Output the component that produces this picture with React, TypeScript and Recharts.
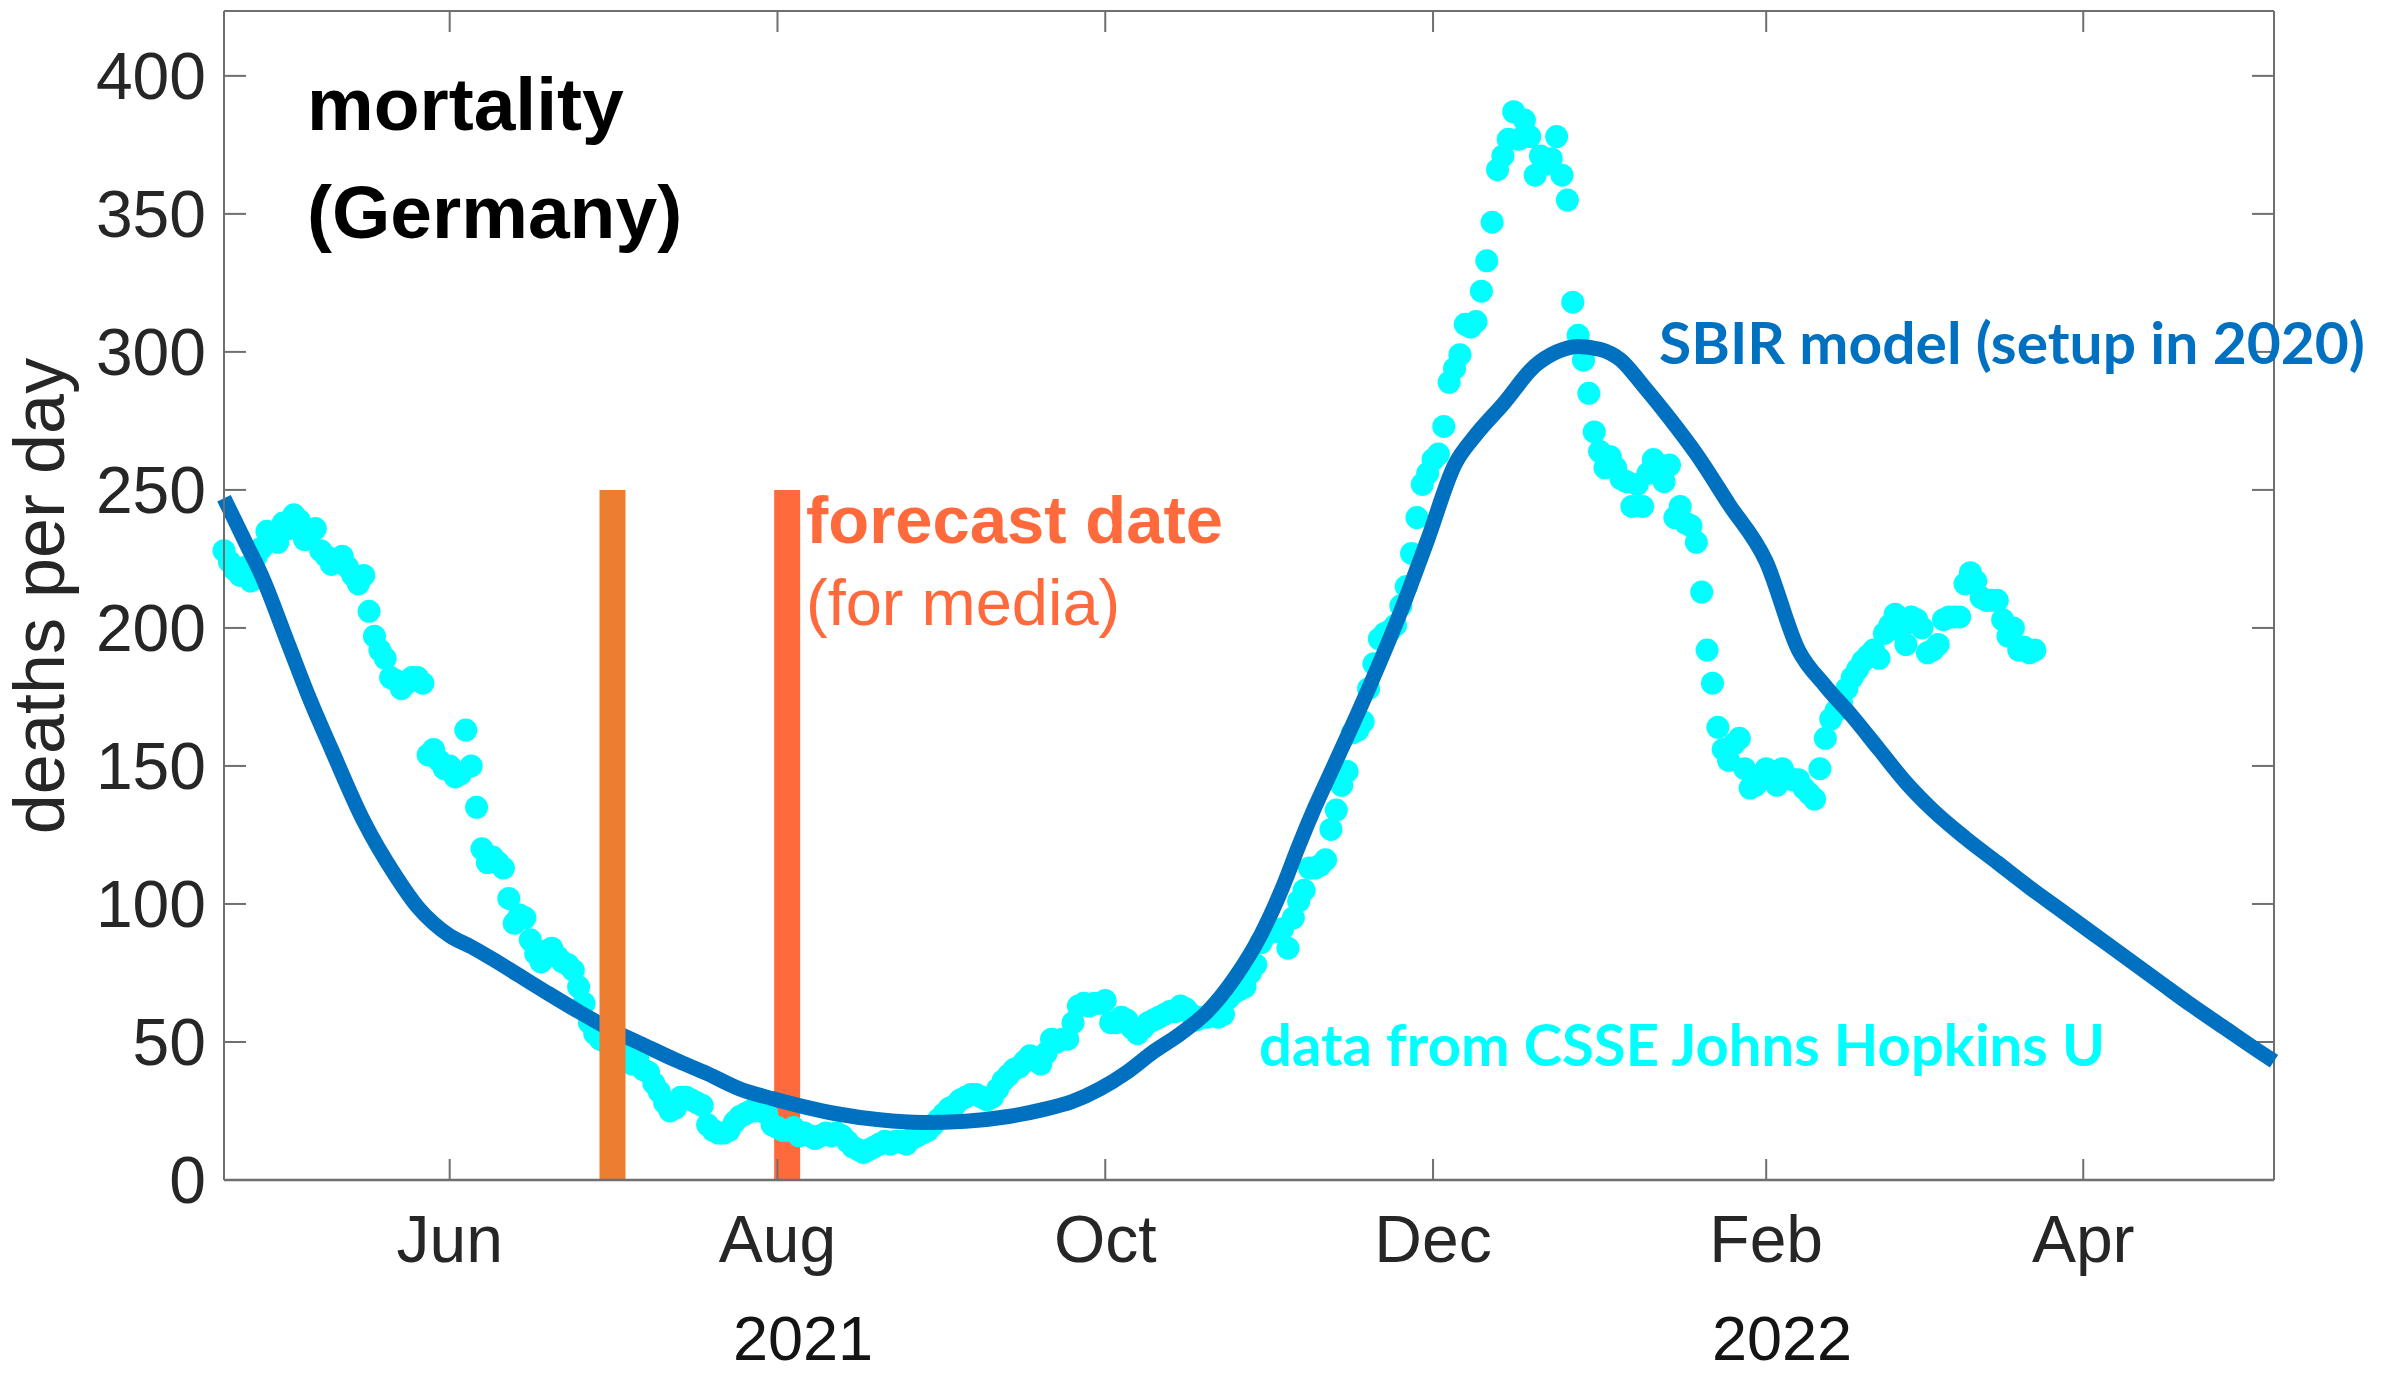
import React from 'react';
import { ComposedChart, Scatter, Line, XAxis, YAxis, ReferenceArea, ReferenceLine } from 'recharts';

const W = 2384;
const H = 1376;

// Day index relative to 2021-06-01 (day 0). First observation: 2021-04-20.
const dataStartDay = -42;
// Daily deaths (7-day mean), CSSE Johns Hopkins, Germany
const observedDeaths = [
  228, 224, 221, 219, 222, 217, 226, 229, 235, 232,
  231, 238, 236, 241, 239, 232, 234, 236, 228, 226,
  223, 224, 226, 222, 219, 216, 219, 206, 197, 192,
  189, 182, 181, 178, 180, 182, 182, 180, 154, 156,
  152, 149, 150, 146, 147, 163, 150, 135, 120, 115,
  117, 115, 113, 102, 93, 96, 95, 87, 82, 79,
  83, 84, 81, 79, 78, 76, 70, 64, 57, 53,
  51, 50, 49, 48, 48, 47, 42, 44, 40, 39,
  35, 32, 28, 25, 26, 30, 30, 29, 28, 27,
  20, 18, 17, 17, 18, 21, 23, 24, 25, 25,
  26, 24, 20, 19, 18, 18, 19, 16, 17, 16,
  15, 16, 17, 16, 17, 16, 14, 12, 11, 10,
  11, 12, 13, 14, 13, 14, 14, 13, 15, 16,
  17, 18, 20, 22, 24, 26, 27, 29, 30, 31,
  31, 30, 29, 30, 33, 36, 38, 40, 41, 43,
  45, 44, 42, 46, 51, 50, 51, 51, 57, 63,
  64, 63, 64, 64, 65, 57, 57, 59, 58, 55,
  53, 55, 57, 58, 59, 60, 61, 61, 63, 62,
  60, 58, 59, 59, 60, 59, 60, 66, 68, 69,
  70, 75, 78, 86, 89, 90, 90, 91, 84, 95,
  101, 105, 113, 113, 114, 116, 127, 134, 143, 148,
  162, 163, 166, 178, 187, 196, 198, 199, 201, 208,
  215, 227, 240, 252, 256, 261, 263, 273, 289, 294,
  299, 310, 309, 311, 322, 333, 347, 366, 371, 377,
  387, 377, 384, 378, 364, 371, 368, 370, 378, 364,
  355, 318, 306, 297, 285, 271, 264, 258, 262, 258,
  254, 253, 244, 252, 244, 256, 261, 258, 253, 259,
  240, 244, 238, 237, 231, 213, 192, 180, 164, 156,
  152, 158, 160, 149, 142, 143, 145, 149, 148, 143,
  149, 146, 145, 145, 142, 140, 138, 149, 160, 167,
  170, 173, 178, 182, 185, 188, 190, 192, 189, 198,
  201, 205, 199, 194, 204, 203, 200, 191, 192, 194,
  203, 204, 204, 204, 216, 220, 217, 211, 210, 210,
  210, 203, 197, 200, 192, 193, 191, 192,
];

// SBIR model (setup in 2020)
const modelDays = [
  -42, -38, -35, -30, -26, -22, -16, -10, -6, -3, 0, 4, 8, 13, 18, 24, 30, 36, 42, 48,
  54, 60, 66, 72, 80, 88, 96, 104, 110, 116, 121, 126, 131, 136, 141, 146, 151, 155, 158, 161,
  165, 171, 177, 182, 187, 191, 196, 202, 206, 210, 214, 218, 222, 227, 232, 238, 245, 251, 256, 261,
  266, 271, 276, 282, 288, 294, 300, 306, 312, 318, 324, 330, 336, 339.5,
];
const modelDeaths = [
  247, 231, 219, 194, 174, 156, 130, 110, 99, 93, 88.5, 84.5, 80, 74, 68, 61, 54.5, 49, 43.5, 38.5,
  33, 29.5, 26.5, 24, 21.8, 20.8, 21.3, 23, 25.3, 28.5, 33, 39, 46.5, 53, 61, 73, 89, 106, 121, 135,
  152, 178, 206, 232, 259, 270, 281, 295, 300, 302, 301, 297, 288, 276, 263, 245, 224, 192, 179, 168,
  156, 144, 134, 124, 115, 106, 97.5, 89, 80.5, 72, 63.5, 55.5, 47.5, 43,
];

const xDomain = [-42, 339.5];
const yDomain = [0, 423.5];
const monthTickDays = [0, 61, 122, 183, 245, 304];
const monthTickLabels = ['Jun', 'Aug', 'Oct', 'Dec', 'Feb', 'Apr'];
const yTicks = [0, 50, 100, 150, 200, 250, 300, 350, 400];
const yearLabels = ['2021', '2022'];

// Vertical markers (forecast dates) and their height
const markerDays = [30.3, 62.8];
const markerHeight = 250;

const AXIS = '#6f6f6f';
const TICK_TEXT = '#262626';
const HELV = '"Liberation Sans", Arial, Helvetica, sans-serif';
const CAL = 'Lato, "Open Sans", sans-serif';

// inward tick lengths in data units (≈21 px)
const X_TICK_LEN = 7.6; // y-units for top-edge ticks
const Y_TICK_LEN = 4.1; // days for right-edge ticks

const BottomTick = (props: any) => {
  const { x, y, payload } = props;
  const i = monthTickDays.indexOf(payload.value);
  return (
    <g>
      <line x1={x} x2={x} y1={y} y2={y - 21} stroke={AXIS} strokeWidth={2} />
      <text x={x} y={y + 82} textAnchor="middle" fontSize={66} fill={TICK_TEXT} fontFamily={HELV}>
        {monthTickLabels[i]}
      </text>
    </g>
  );
};

const LeftTick = (props: any) => {
  const { x, y, payload } = props;
  return (
    <g>
      <line x1={x} x2={x + 22} y1={y} y2={y} stroke={AXIS} strokeWidth={2} />
      <text x={x - 18} y={y + 23} textAnchor="end" fontSize={66} fill={TICK_TEXT} fontFamily={HELV}>
        {payload.value}
      </text>
    </g>
  );
};

const renderDot = (p: any) => <circle cx={p.cx} cy={p.cy} r={11.5} fill="#00FFFF" />;

export default function App() {
  const scatterData = observedDeaths.map((v, i) => ({ day: dataStartDay + i, deaths: v }));
  const modelData = modelDays.map((d, i) => ({ day: d, deaths: modelDeaths[i] }));
  const halfW = 2.42;

  return (
    <div style={{ position: 'absolute', left: 0, top: 0, width: W, height: H, background: '#ffffff' }}>
      <ComposedChart width={W} height={H} margin={{ top: 11, right: 110, bottom: 96, left: 0 }}>
        <XAxis
          dataKey="day"
          type="number"
          domain={xDomain}
          ticks={monthTickDays}
          interval={0}
          height={100}
          tickSize={0}
          tickMargin={0}
          tickLine={false}
          axisLine={{ stroke: AXIS, strokeWidth: 2.5 }}
          tick={BottomTick}
        />
        <YAxis
          dataKey="deaths"
          type="number"
          domain={yDomain}
          ticks={yTicks}
          interval={0}
          width={224}
          tickSize={0}
          tickMargin={0}
          tickLine={false}
          axisLine={{ stroke: AXIS, strokeWidth: 2 }}
          tick={LeftTick}
        />
        <ReferenceLine y={yDomain[1]} stroke={AXIS} strokeWidth={2} ifOverflow="visible" />
        <ReferenceLine x={xDomain[1]} stroke={AXIS} strokeWidth={2} ifOverflow="visible" />
        {monthTickDays.map((d) => (
          <ReferenceLine
            key={'tt' + d}
            segment={[{ x: d, y: yDomain[1] }, { x: d, y: yDomain[1] - X_TICK_LEN }]}
            stroke={AXIS}
            strokeWidth={2}
            ifOverflow="visible"
          />
        ))}
        {yTicks.map((v) => (
          <ReferenceLine
            key={'rt' + v}
            segment={[{ x: xDomain[1], y: v }, { x: xDomain[1] - Y_TICK_LEN, y: v }]}
            stroke={AXIS}
            strokeWidth={2}
            ifOverflow="visible"
          />
        ))}
        <ReferenceArea
          x1={markerDays[1] - halfW}
          x2={markerDays[1] + halfW}
          y1={0}
          y2={markerHeight}
          fill="#FF6A3D"
          fillOpacity={1}
          stroke="none"
          ifOverflow="visible"
          zIndex={350}
        />
        <Scatter
          data={scatterData}
          dataKey="deaths"
          fill="#00FFFF"
          shape={renderDot}
          isAnimationActive={false}
          zIndex={380}
        />
        <Line
          data={modelData}
          dataKey="deaths"
          type="monotone"
          stroke="#0070C0"
          strokeWidth={15}
          dot={false}
          activeDot={false}
          isAnimationActive={false}
          strokeLinejoin="round"
          zIndex={420}
        />
        <ReferenceArea
          x1={markerDays[0] - halfW}
          x2={markerDays[0] + halfW}
          y1={0}
          y2={markerHeight}
          fill="#ED7D31"
          fillOpacity={1}
          stroke="none"
          ifOverflow="visible"
          zIndex={450}
        />
      </ComposedChart>
      <svg
        width={W}
        height={H}
        style={{ position: 'absolute', left: 0, top: 0, pointerEvents: 'none' }}
      >
        <text transform="rotate(-90)" x={-596} y={64} textAnchor="middle" fontSize={72} fill={TICK_TEXT} fontFamily={HELV}>
          deaths per day
        </text>
        <text x={803} y={1360} textAnchor="middle" fontSize={63} fill="#141414" fontFamily={HELV}>{yearLabels[0]}</text>
        <text x={1782} y={1360} textAnchor="middle" fontSize={63} fill="#141414" fontFamily={HELV}>{yearLabels[1]}</text>
        <text x={307} y={130} fontSize={75} fontWeight="bold" fill="#000" fontFamily={HELV}>mortality</text>
        <text x={307} y={238} fontSize={75} fontWeight="bold" fill="#000" fontFamily={HELV}>(Germany)</text>
        <text x={806} y={543} fontSize={67} fontWeight="bold" fill="#FF6A3D" fontFamily={HELV}>forecast date</text>
        <text x={806} y={625} fontSize={65} fill="#FF6A3D" fontFamily={HELV}>(for media)</text>
        <text x={1659} y={364} fontSize={57} fontWeight="bold" fill="#0070C0" fontFamily={CAL} textLength={706} lengthAdjust="spacingAndGlyphs">
          SBIR model (setup in 2020)
        </text>
        <text x={1259} y={1066} fontSize={57} fontWeight="bold" fill="#00FFFF" fontFamily={CAL} textLength={846} lengthAdjust="spacingAndGlyphs">
          data from CSSE Johns Hopkins U
        </text>
      </svg>
    </div>
  );
}
